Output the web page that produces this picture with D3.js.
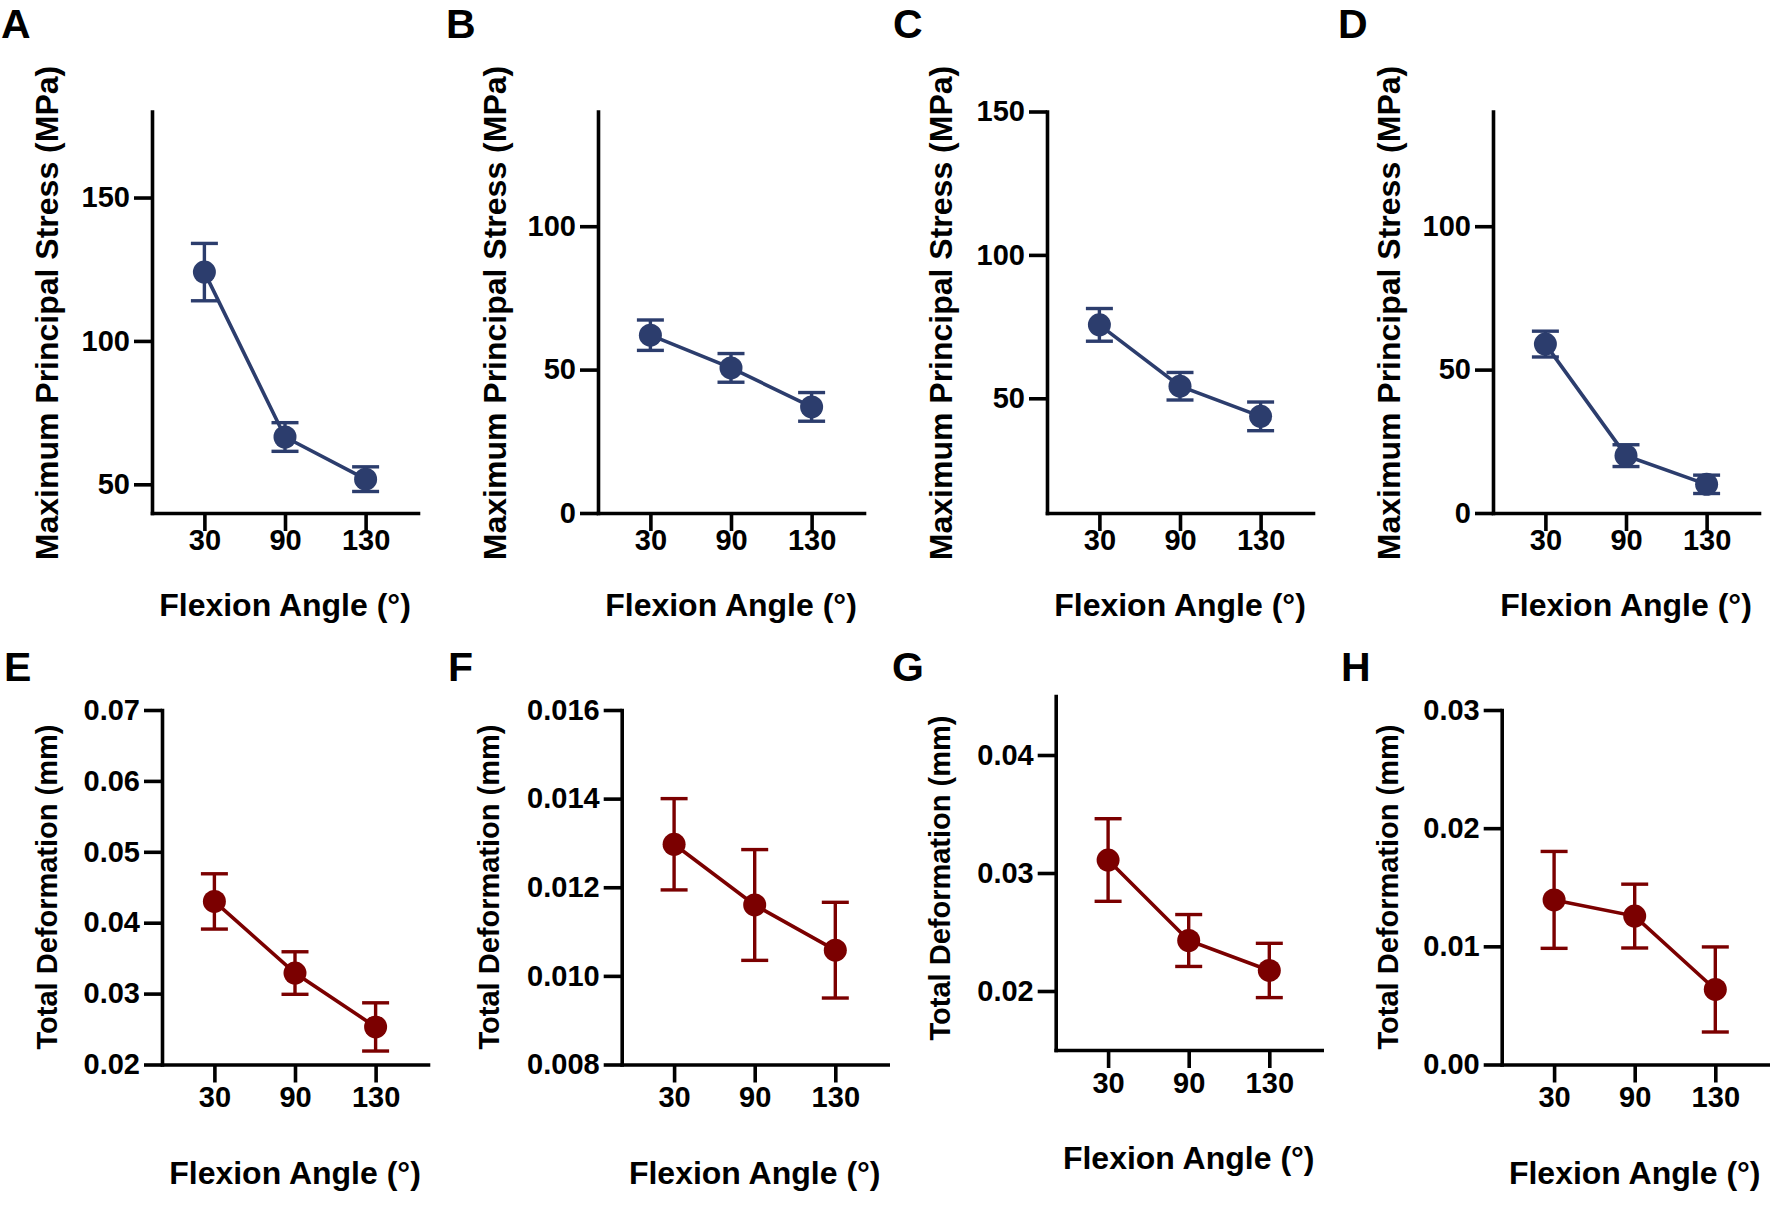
<!DOCTYPE html>
<html>
<head>
<meta charset="utf-8">
<script src="https://cdn.jsdelivr.net/npm/d3@7"></script>
<style>
  html, body { margin: 0; padding: 0; background: #fff; }
  svg text { font-family: "Liberation Sans", Arial, Helvetica, sans-serif; font-weight: bold; fill: #000; }
</style>
</head>
<body>
<svg id="chart" width="1770" height="1221"></svg>
<script>
// ---------------- data ----------------
const categories = ["30", "90", "130"];
const xTitle = "Flexion Angle (°)";
const stressTitle = "Maximum Principal Stress (MPa)";
const deformTitle = "Total Deformation (mm)";

const stressA = [124, 66.5, 51.8];
const errA    = [10, 5, 4.3];
const stressB = [62, 50.6, 37];
const errB    = [5.3, 5, 5];
const stressC = [75.6, 54.2, 43.7];
const errC    = [5.7, 4.8, 5];
const stressD = [58.9, 20, 10];
const errD    = [4.5, 3.8, 3.2];

const deformE = [0.0430, 0.0329, 0.0253];
const errE    = [0.0039, 0.0030, 0.0034];
const deformF = [0.01297, 0.0116, 0.01058];
const errF    = [0.00103, 0.00125, 0.00108];
const deformG = [0.0311, 0.02428, 0.02174];
const errG    = [0.0035, 0.0022, 0.0023];
const deformH = [0.01393, 0.01256, 0.00635];
const errH    = [0.0041, 0.0027, 0.0036];

const ticksA = [50, 100, 150];
const ticksB = [0, 50, 100];
const ticksC = [50, 100, 150];
const ticksD = [0, 50, 100];
const ticksE = [0.02, 0.03, 0.04, 0.05, 0.06, 0.07];
const ticksF = [0.008, 0.010, 0.012, 0.014, 0.016];
const ticksG = [0.02, 0.03, 0.04];
const ticksH = [0.00, 0.01, 0.02, 0.03];

const domainA = [40, 180];
const domainB = [0, 140];
const domainC = [10, 150];
const domainD = [0, 140];
const domainE = [0.02, 0.07];
const domainF = [0.008, 0.016];
const domainG = [0.015, 0.045];
const domainH = [0, 0.03];

// ---------------- layout / style ----------------
const BLUE = "#2c3d6d";
const RED = "#7b0000";

const rowTop = { pad: -2, title: 103, ytSize: 32 };
const rowBottom = { pad: 4, title: 119, ytSize: 29 };

const panels = [
  { letter: "A", vals: stressA, errs: errA, ticks: ticksA, domain: domainA, fmt: "d", title: stressTitle, color: BLUE, row: rowTop,
    ax: 152, y0: 111.5, y1: 513, letterX: 1, letterY: 38, ytX: 48, ytY: 313 },
  { letter: "B", vals: stressB, errs: errB, ticks: ticksB, domain: domainB, fmt: "d", title: stressTitle, color: BLUE, row: rowTop,
    ax: 598, y0: 111.5, y1: 513, letterX: 446, letterY: 38, ytX: 496, ytY: 313 },
  { letter: "C", vals: stressC, errs: errC, ticks: ticksC, domain: domainC, fmt: "d", title: stressTitle, color: BLUE, row: rowTop,
    ax: 1047, y0: 111.5, y1: 513, letterX: 893, letterY: 38, ytX: 942, ytY: 313 },
  { letter: "D", vals: stressD, errs: errD, ticks: ticksD, domain: domainD, fmt: "d", title: stressTitle, color: BLUE, row: rowTop,
    ax: 1493, y0: 111.5, y1: 513, letterX: 1338, letterY: 38, ytX: 1390, ytY: 313 },
  { letter: "E", vals: deformE, errs: errE, ticks: ticksE, domain: domainE, fmt: ".2f", title: deformTitle, color: RED, row: rowBottom,
    ax: 162, y0: 710, y1: 1064.5, letterX: 4, letterY: 681, ytX: 48, ytY: 887 },
  { letter: "F", vals: deformF, errs: errF, ticks: ticksF, domain: domainF, fmt: ".3f", title: deformTitle, color: RED, row: rowBottom,
    ax: 621.7, y0: 710, y1: 1064.5, letterX: 448, letterY: 681, ytX: 490, ytY: 887 },
  { letter: "G", vals: deformG, errs: errG, ticks: ticksG, domain: domainG, fmt: ".2f", title: deformTitle, color: RED, row: rowBottom,
    ax: 1055.7, y0: 696, y1: 1050, letterX: 892, letterY: 681, ytX: 941, ytY: 878 },
  { letter: "H", vals: deformH, errs: errH, ticks: ticksH, domain: domainH, fmt: ".2f", title: deformTitle, color: RED, row: rowBottom,
    ax: 1501.7, y0: 710, y1: 1064.5, letterX: 1341, letterY: 681, ytX: 1389, ytY: 887 }
];

const AXIS_W = 266;      // x-axis length
const TICK = 18;
const TICK_FONT = 29;
const XT_FONT = 32;
const LETTER_FONT = 41;
const R = 11.5;
const CAP = 13.5;

const svg = d3.select("#chart");

panels.forEach(p => {
  const g = svg.append("g");
  const x = d3.scalePoint().domain(categories).range([p.ax, p.ax + AXIS_W]).padding(0.65);
  const y = d3.scaleLinear().domain(p.domain).range([p.y1, p.y0]);

  // axes
  const yAxis = d3.axisLeft(y).tickValues(p.ticks).tickSize(TICK).tickSizeOuter(0).tickPadding(4)
    .tickFormat(d3.format(p.fmt));
  const xAxis = d3.axisBottom(x).tickSize(TICK).tickSizeOuter(0).tickPadding(p.row.pad);

  const ya = g.append("g").attr("transform", `translate(${p.ax},0)`).call(yAxis);
  const xa = g.append("g").attr("transform", `translate(0,${p.y1})`).call(xAxis);
  [ya, xa].forEach(a => {
    a.select(".domain").attr("stroke", "#000").attr("stroke-width", 3.6).attr("stroke-linecap", "square");
    a.selectAll(".tick line").attr("stroke", "#000").attr("stroke-width", 3.6);
    a.selectAll(".tick text").style("font-size", TICK_FONT + "px").attr("fill", "#000");
  });

  const data = categories.map((c, i) => ({ c, v: p.vals[i], e: p.errs[i] }));

  // error bars
  const eb = g.append("g").attr("stroke", p.color).attr("stroke-width", 3.4);
  data.forEach(d => {
    const cx = x(d.c), yHi = y(d.v + d.e), yLo = y(d.v - d.e);
    eb.append("line").attr("x1", cx).attr("x2", cx).attr("y1", yHi).attr("y2", yLo);
    eb.append("line").attr("x1", cx - CAP).attr("x2", cx + CAP).attr("y1", yHi).attr("y2", yHi);
    eb.append("line").attr("x1", cx - CAP).attr("x2", cx + CAP).attr("y1", yLo).attr("y2", yLo);
  });

  // connecting line
  g.append("path").datum(data)
    .attr("fill", "none").attr("stroke", p.color).attr("stroke-width", 3.6)
    .attr("d", d3.line().x(d => x(d.c)).y(d => y(d.v)));

  // markers
  g.selectAll("circle.pt").data(data).enter().append("circle")
    .attr("class", "pt").attr("cx", d => x(d.c)).attr("cy", d => y(d.v)).attr("r", R)
    .attr("fill", p.color);

  // axis titles
  g.append("text").attr("x", x(categories[1])).attr("y", p.y1 + p.row.title)
    .attr("text-anchor", "middle").style("font-size", XT_FONT + "px").text(xTitle);

  g.append("text")
    .attr("transform", `translate(${p.ytX},${p.ytY}) rotate(-90)`)
    .attr("text-anchor", "middle").attr("dy", "0.3em")
    .style("font-size", p.row.ytSize + "px").text(p.title);

  // panel letter
  g.append("text").attr("x", p.letterX).attr("y", p.letterY)
    .style("font-size", LETTER_FONT + "px").text(p.letter);
});
</script>
</body>
</html>
